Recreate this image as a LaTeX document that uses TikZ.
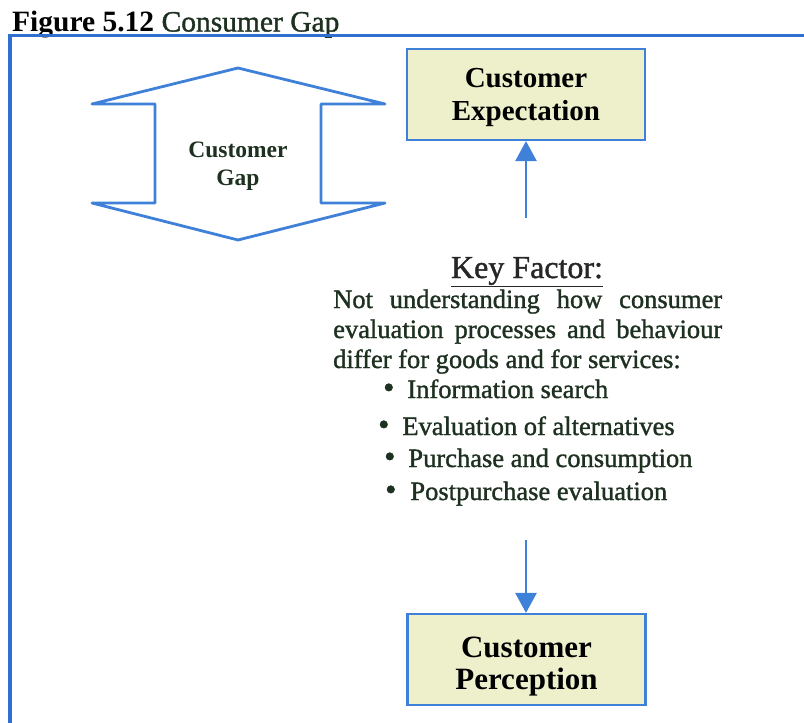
\documentclass[tikz,border=0pt]{standalone}
\usepackage{fontspec}
\setmainfont{Liberation Serif}
\newfontfamily\heavyserif{Liberation Serif}[FakeBold=1.2]
\usetikzlibrary{arrows.meta}
\definecolor{frameblue}{HTML}{2F6FD0}
\definecolor{lineblue}{HTML}{3F80D8}
\definecolor{boxfill}{HTML}{EEF0CC}
\definecolor{txtgreen}{HTML}{1E3020}
\tikzset{
  fs/.style={font=\fontsize{#1}{#1}\selectfont},
  gapshape/.style={draw=lineblue, line width=2.8pt, line join=round},
  factorbox/.style={draw=lineblue, line width=2.2pt, fill=boxfill, minimum width=238pt, minimum height=91pt, inner sep=0pt},
  boxtext/.style={anchor=base, inner sep=0pt, text=black, font=\fontsize{#1}{#1}\selectfont\bfseries},
  conn/.style={draw=lineblue, line width=2.6pt, -{Triangle[width=21pt,length=20pt]}},
  txt/.style={inner sep=0pt, text=txtgreen, font=\fontsize{26.5}{30}\heavyserif},
}
\begin{document}
\begin{tikzpicture}[x=1pt,y=-1pt]
\useasboundingbox (0,0) rectangle (804,723);
\fill[white] (0,0) rectangle (804,723);
% title
\node[anchor=base west, inner sep=0pt, font=\fontsize{29.5}{30}\selectfont] (title) at (12,31.5) {\textbf{Figure 5.12} \textcolor{txtgreen}{\heavyserif Consumer Gap}};
% frame
\draw[frameblue, line width=3.8pt] (10,725) -- (10,35.5) -- (806,35.5);
% double arrow
\draw[gapshape] (238,68) -- (385,104) -- (321,104) -- (321,203) -- (385,203) -- (238,240) -- (92,203) -- (155,203) -- (155,104) -- (92,104) -- cycle;
\node[anchor=base, inner sep=0pt, fs=23.5, text=txtgreen] (gap1) at (238,157) {\textbf{Customer}};
\node[anchor=base, inner sep=0pt, fs=23.5, text=txtgreen] (gap2) at (238,185) {\textbf{Gap}};
% boxes
\node[factorbox] (expect) at (526,94.5) {};
\node[boxtext=29] (expect1) at (expect.center |- 0,87) {Customer};
\node[boxtext=29] (expect2) at (expect.center |- 0,120) {Expectation};
\node[factorbox] (percept) at (526.5,659.5) {};
\node[boxtext=31] (percept1) at (percept.center |- 0,657) {Customer};
\node[boxtext=31] (percept2) at (percept.center |- 0,689) {Perception};
% key factor text
\node[anchor=base, inner sep=0pt, font=\fontsize{32}{32}\heavyserif, text=black!85] (kf) at (527,278) {\underline{Key Factor:}};
\node[txt, anchor=base west] (l1) at (333,308) {\hbox to 389pt{Not\hfill understanding\hfill how\hfill consumer}};
\node[txt, anchor=base west] (l2) at (333,338) {\hbox to 389pt{evaluation\hfill processes\hfill and\hfill behaviour}};
\node[txt, anchor=base west] (l3) at (333,368) {differ for goods and for services:};
\node[txt, anchor=base west] (b1) at (383,398) {{\fontsize{32}{30}\selectfont\textbullet}\hspace{13pt}Information search};
\node[txt, anchor=base west] (b2) at (378,435) {{\fontsize{32}{30}\selectfont\textbullet}\hspace{13pt}Evaluation of alternatives};
\node[txt, anchor=base west] (b3) at (384,467) {{\fontsize{32}{30}\selectfont\textbullet}\hspace{13pt}Purchase and consumption};
\node[txt, anchor=base west] (b4) at (385,500) {{\fontsize{32}{30}\selectfont\textbullet}\hspace{14pt}Postpurchase evaluation};
% connectors
\coordinate (upstart) at (526,218);
\coordinate (downstart) at (526,540);
\draw[conn] (upstart) -- (upstart |- expect.south);
\draw[conn] (downstart) -- (downstart |- percept.north);
\end{tikzpicture}
\end{document}
